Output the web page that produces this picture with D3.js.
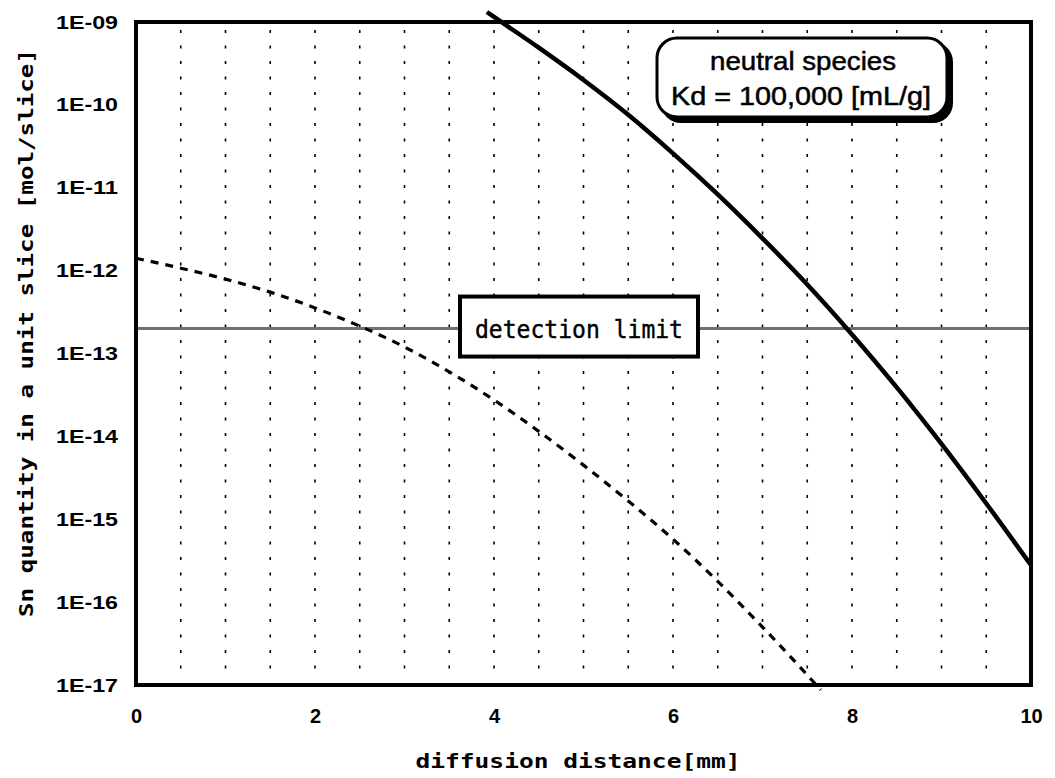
<!DOCTYPE html>
<html>
<head>
<meta charset="utf-8">
<script src="https://cdn.jsdelivr.net/npm/d3@7"></script>
<style>
html,body{margin:0;padding:0;background:#fff;}
svg{display:block;}
</style>
</head>
<body>
<svg id="chart" width="1055" height="778"></svg>
<script>
// ---- data ----
const xTickValues = [0, 2, 4, 6, 8, 10];
const yTickValues = [1e-9, 1e-10, 1e-11, 1e-12, 1e-13, 1e-14, 1e-15, 1e-16, 1e-17];
const yTickLabels = ["1E-09", "1E-10", "1E-11", "1E-12", "1E-13", "1E-14", "1E-15", "1E-16", "1E-17"];
const gridPositions = [0.5,1,1.5,2,2.5,3,3.5,4,4.5,5,5.5,6,6.5,7,7.5,8,8.5,9,9.5];

const solidX = [3.92, 4.0, 4.5, 5.0, 5.5, 6.0, 6.5, 7.0, 7.5, 8.0, 8.5, 9.0, 9.5, 10];
const solidY = [1.32e-9, 1.15e-9, 4.9e-10, 2.0e-10, 7.6e-11, 2.6e-11, 8.3e-12, 2.45e-12, 6.8e-13, 1.7e-13, 3.9e-14, 8.1e-15, 1.55e-15, 2.8e-16];

const dashedX = [0, 0.5, 1, 1.5, 2, 2.5, 3, 3.5, 4, 4.5, 5, 5.5, 6, 6.5, 7, 7.5, 7.65];
const dashedY = [1.41e-12, 1.07e-12, 7.9e-13, 5.5e-13, 3.55e-13, 2.14e-13, 1.2e-13, 6.0e-14, 2.75e-14, 1.15e-14, 4.5e-15, 1.66e-15, 5.75e-16, 1.78e-16, 5.0e-17, 1.32e-17, 8.7e-18];

const detectionLimit = 2e-13;
const detectionLabel = "detection limit";
const noteLines = ["neutral species", "Kd = 100,000 [mL/g]"];
const xTitle = "diffusion distance[mm]";
const yTitle = "Sn quantity in a unit slice [mol/slice]";

// ---- layout ----
const svg = d3.select("#chart");
const L = 136, R = 1031, T = 22, B = 685;
const x = d3.scaleLinear().domain([0, 10]).range([L, R]);
const y = d3.scaleLog().domain([1e-17, 1e-9]).range([B, T]);

// grid
svg.append("g").selectAll("line").data(gridPositions).join("line")
  .attr("x1", d => x(d)).attr("x2", d => x(d))
  .attr("y1", T + 8).attr("y2", B - 4)
  .attr("stroke", "#000").attr("stroke-width", 1.6)
  .attr("stroke-dasharray", "3,12.5");

// detection limit line
svg.append("line")
  .attr("x1", x(0)).attr("x2", x(10))
  .attr("y1", y(detectionLimit)).attr("y2", y(detectionLimit))
  .attr("stroke", "#707070").attr("stroke-width", 3);

// frame
svg.append("rect").attr("x", L).attr("y", T).attr("width", R - L).attr("height", B - T)
  .attr("fill", "none").attr("stroke", "#000").attr("stroke-width", 4);

// axes (labels only, using d3 axes)
const yAxis = d3.axisLeft(y).tickValues(yTickValues)
  .tickFormat((d, i) => yTickLabels[i]).tickSize(0).tickPadding(18);
const gy = svg.append("g").attr("transform", `translate(${L},0)`).call(yAxis);
gy.select(".domain").remove();
gy.selectAll("text").attr("font-family", "Liberation Sans, Arial, sans-serif")
  .attr("font-weight", "bold").attr("font-size", 19)
  .attr("textLength", 62).attr("lengthAdjust", "spacingAndGlyphs").attr("fill", "#000");

const xAxis = d3.axisBottom(x).tickValues(xTickValues).tickFormat(d3.format("d")).tickSize(0).tickPadding(24);
const gx = svg.append("g").attr("transform", `translate(0,${B})`).call(xAxis);
gx.select(".domain").remove();
gx.selectAll("text").attr("font-family", "Liberation Sans, Arial, sans-serif")
  .attr("font-weight", "bold").attr("font-size", 20).attr("fill", "#000");

// lines
const lineGen = d3.line().x(d => x(d[0])).y(d => y(d[1])).curve(d3.curveMonotoneX);
svg.append("path").datum(dashedX.map((v, i) => [v, dashedY[i]]))
  .attr("d", lineGen).attr("fill", "none").attr("stroke", "#000")
  .attr("stroke-width", 3.2).attr("stroke-dasharray", "8,7");
svg.append("path").datum(solidX.map((v, i) => [v, solidY[i]]))
  .attr("d", lineGen).attr("fill", "none").attr("stroke", "#000")
  .attr("stroke-width", 4.5);

// detection limit label box
const dy = y(detectionLimit);
svg.append("rect").attr("x", 460).attr("y", dy - 32).attr("width", 238).attr("height", 60)
  .attr("fill", "#fff").attr("stroke", "#000").attr("stroke-width", 4);
svg.append("text").attr("x", 579).attr("y", dy + 9).attr("text-anchor", "middle")
  .attr("font-family", "DejaVu Sans Mono, monospace").attr("font-size", 24)
  .attr("stroke", "#000").attr("stroke-width", 0.4)
  .attr("textLength", 208).attr("lengthAdjust", "spacingAndGlyphs")
  .text(detectionLabel);

// note box with shadow
svg.append("rect").attr("x", 661).attr("y", 42).attr("width", 292).attr("height", 81)
  .attr("rx", 20).attr("fill", "#000");
svg.append("rect").attr("x", 657).attr("y", 38).attr("width", 290).attr("height", 79)
  .attr("rx", 20).attr("fill", "#fff").attr("stroke", "#000").attr("stroke-width", 3);
svg.append("text").attr("x", 803).attr("y", 70).attr("text-anchor", "middle")
  .attr("font-family", "Liberation Sans, Arial, sans-serif").attr("font-size", 25)
  .attr("stroke", "#000").attr("stroke-width", 0.5)
  .attr("textLength", 186).attr("lengthAdjust", "spacingAndGlyphs")
  .text(noteLines[0]);
svg.append("text").attr("x", 671).attr("y", 105)
  .attr("font-family", "Liberation Sans, Arial, sans-serif").attr("font-size", 25)
  .attr("stroke", "#000").attr("stroke-width", 0.5)
  .attr("textLength", 260).attr("lengthAdjust", "spacingAndGlyphs")
  .text(noteLines[1]);

// axis titles
svg.append("text").attr("x", 578).attr("y", 768).attr("text-anchor", "middle")
  .attr("font-family", "DejaVu Sans Mono, monospace").attr("font-weight", "bold").attr("font-size", 20)
  .attr("textLength", 325).attr("lengthAdjust", "spacingAndGlyphs")
  .text(xTitle);
svg.append("text").attr("transform", "translate(33,333) rotate(-90)").attr("text-anchor", "middle")
  .attr("font-family", "DejaVu Sans Mono, monospace").attr("font-weight", "bold").attr("font-size", 20)
  .attr("textLength", 568).attr("lengthAdjust", "spacingAndGlyphs")
  .text(yTitle);
</script>
</body>
</html>
